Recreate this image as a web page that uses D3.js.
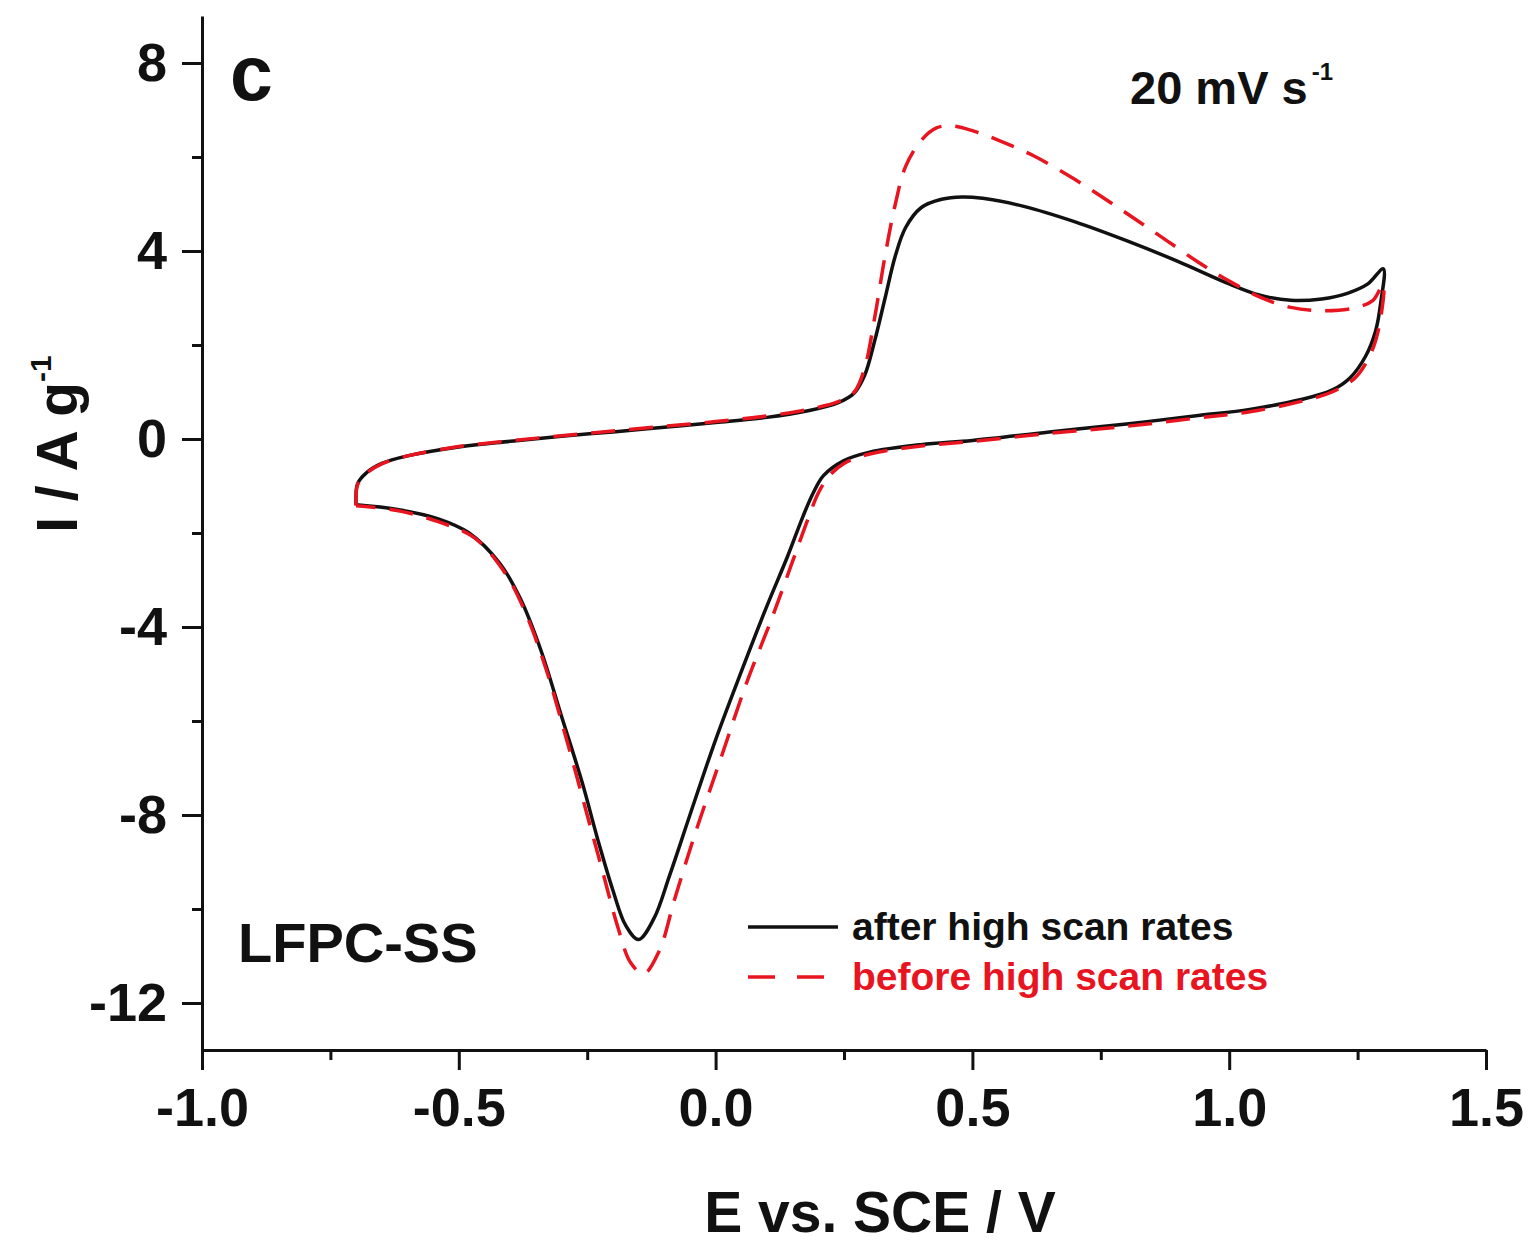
<!DOCTYPE html>
<html>
<head>
<meta charset="utf-8">
<script src="https://cdn.jsdelivr.net/npm/d3@7"></script>
<style>
	body { margin: 0; background: #fff; }
	svg { display: block; font-family: "Liberation Sans", Arial, sans-serif; font-weight: bold; }
	.axis path, .axis line { stroke: #111; stroke-width: 3; fill: none; }
	.axis text { font-size: 54px; fill: #111; font-family: "Liberation Sans", Arial, sans-serif; font-weight: bold; }
	.cv { fill: none; stroke-width: 3.5; stroke-linejoin: round; }
</style>
</head>
<body>
<svg id="chart" width="1533" height="1243"></svg>
<script>
// CV loops, [E / V, I / A g-1], anodic sweep from -0.7 V then back
const afterScan = [
	[-0.70, -1.40], [-0.697, -0.95], [-0.68, -0.72], [-0.65, -0.52], [-0.60, -0.36],
	[-0.50, -0.17], [-0.40, -0.05], [-0.30, 0.06], [-0.20, 0.15], [-0.10, 0.25],
	[0.00, 0.35], [0.10, 0.46], [0.18, 0.60], [0.24, 0.78], [0.27, 0.98],
	[0.29, 1.35], [0.31, 2.10], [0.33, 3.00], [0.35, 3.90], [0.37, 4.50],
	[0.40, 4.92], [0.44, 5.10], [0.48, 5.15], [0.52, 5.12], [0.60, 4.95],
	[0.70, 4.62], [0.80, 4.22], [0.90, 3.78], [1.00, 3.30], [1.06, 3.06],
	[1.12, 2.95], [1.18, 2.98], [1.23, 3.10], [1.27, 3.30], [1.30, 3.62],
	[1.295, 2.90], [1.285, 2.30], [1.265, 1.75], [1.235, 1.30], [1.20, 1.04],
	[1.14, 0.84], [1.04, 0.63], [0.94, 0.50], [0.80, 0.32], [0.65, 0.15],
	[0.50, -0.03], [0.40, -0.12], [0.30, -0.28], [0.25, -0.46], [0.21, -0.78],
	[0.19, -1.15], [0.17, -1.65], [0.14, -2.50], [0.10, -3.55], [0.05, -4.95],
	[0.00, -6.40], [-0.05, -8.00], [-0.09, -9.30], [-0.12, -10.20], [-0.15, -10.65],
	[-0.175, -10.35], [-0.20, -9.60], [-0.23, -8.50], [-0.26, -7.30], [-0.30, -5.90],
	[-0.34, -4.50], [-0.38, -3.40], [-0.42, -2.65], [-0.48, -2.00], [-0.54, -1.70],
	[-0.62, -1.50], [-0.70, -1.40]
];
const beforeScan = [
	[-0.70, -1.42], [-0.697, -0.97], [-0.68, -0.73], [-0.65, -0.53], [-0.60, -0.36],
	[-0.50, -0.16], [-0.40, -0.04], [-0.30, 0.07], [-0.20, 0.17], [-0.10, 0.27],
	[0.00, 0.37], [0.10, 0.49], [0.18, 0.63], [0.24, 0.80], [0.27, 1.00],
	[0.29, 1.50], [0.31, 2.60], [0.33, 3.90], [0.35, 5.00], [0.37, 5.80],
	[0.40, 6.35], [0.43, 6.62], [0.46, 6.66], [0.50, 6.56], [0.55, 6.36],
	[0.62, 6.02], [0.70, 5.52], [0.78, 4.95], [0.86, 4.36], [0.94, 3.76],
	[1.00, 3.36], [1.06, 3.02], [1.12, 2.80], [1.18, 2.73], [1.24, 2.78],
	[1.28, 2.95], [1.30, 3.30],
	[1.292, 2.40], [1.275, 1.80], [1.245, 1.30], [1.20, 1.00], [1.14, 0.80],
	[1.04, 0.58], [0.94, 0.45], [0.80, 0.27], [0.65, 0.12], [0.50, -0.05],
	[0.40, -0.15], [0.30, -0.32], [0.25, -0.52], [0.22, -0.80], [0.20, -1.15],
	[0.18, -1.70], [0.15, -2.60], [0.11, -3.80], [0.06, -5.20], [0.01, -6.80],
	[-0.04, -8.40], [-0.08, -9.80], [-0.11, -10.90], [-0.14, -11.38], [-0.165, -11.15],
	[-0.19, -10.40], [-0.22, -9.20], [-0.25, -8.00], [-0.29, -6.40], [-0.33, -4.90],
	[-0.37, -3.70], [-0.41, -2.85], [-0.47, -2.10], [-0.54, -1.76], [-0.62, -1.52],
	[-0.70, -1.42]
];
const xMajor = [-1.0, -0.5, 0.0, 0.5, 1.0, 1.5];
const xMinor = [-0.75, -0.25, 0.25, 0.75, 1.25];
const yMajor = [-12, -8, -4, 0, 4, 8];
const yMinor = [-10, -6, -2, 2, 6];
const seriesNames = ['after high scan rates', 'before high scan rates'];

const svg = d3.select('#chart');
const x = d3.scaleLinear().domain([-1, 1.5]).range([202, 1486]);
const y = d3.scaleLinear().domain([-13, 9]).range([1050, 16]);

// axes, ticks outward
svg.append('g')
	.attr('class', 'axis x')
	.attr('transform', 'translate(0,1050)')
	.call(d3.axisBottom(x).tickValues(xMajor).tickSize(20).tickSizeOuter(0).tickPadding(18)
		.tickFormat(d => d.toFixed(1)));
svg.append('g')
	.attr('class', 'axis x minor')
	.attr('transform', 'translate(0,1050)')
	.call(d3.axisBottom(x).tickValues(xMinor).tickSize(10).tickFormat(''))
	.call(g => g.select('.domain').remove());
svg.append('g')
	.attr('class', 'axis y')
	.attr('transform', 'translate(202,0)')
	.call(d3.axisLeft(y).tickValues(yMajor).tickSize(20).tickSizeOuter(0).tickPadding(15)
		.tickFormat(d => String(d)));
svg.append('g')
	.attr('class', 'axis y minor')
	.attr('transform', 'translate(202,0)')
	.call(d3.axisLeft(y).tickValues(yMinor).tickSize(10).tickFormat(''))
	.call(g => g.select('.domain').remove());

const line = d3.line()
	.x(d => x(d[0]))
	.y(d => y(d[1]))
	.curve(d3.curveCatmullRom.alpha(0.5));

svg.append('path')
	.datum(afterScan)
	.attr('class', 'cv')
	.attr('stroke', '#111')
	.attr('d', line);
svg.append('path')
	.datum(beforeScan)
	.attr('class', 'cv')
	.attr('stroke', '#e8141f')
	.attr('stroke-dasharray', '24,14')
	.attr('d', line);

// legend
const legend = svg.append('g');
legend.append('line')
	.attr('x1', 748).attr('x2', 838).attr('y1', 927).attr('y2', 927)
	.attr('stroke', '#111').attr('stroke-width', 3.5);
legend.append('line')
	.attr('x1', 748).attr('x2', 824).attr('y1', 977).attr('y2', 977)
	.attr('stroke', '#e8141f').attr('stroke-width', 3.5)
	.attr('stroke-dasharray', '27,22');
legend.append('text')
	.attr('x', 852).attr('y', 940)
	.attr('font-size', 39).attr('fill', '#111')
	.text(seriesNames[0]);
legend.append('text')
	.attr('x', 852).attr('y', 990)
	.attr('font-size', 39).attr('fill', '#e8141f')
	.text(seriesNames[1]);

// annotations
svg.append('text').attr('x', 230).attr('y', 100).attr('font-size', 77).attr('fill', '#111').text('c');
svg.append('text').attr('x', 238).attr('y', 962).attr('font-size', 56).attr('fill', '#111').text('LFPC-SS');
const rate = svg.append('text').attr('x', 1130).attr('y', 104).attr('font-size', 47).attr('fill', '#111');
rate.append('tspan').text('20 mV s');
rate.append('tspan').attr('dx', 4).attr('dy', -24).attr('font-size', 24).text('-1');

// axis titles
svg.append('text')
	.attr('x', 880).attr('y', 1232)
	.attr('text-anchor', 'middle')
	.attr('font-size', 57).attr('fill', '#111')
	.text('E vs. SCE / V');
const yTitle = svg.append('text')
	.attr('transform', 'translate(77,444) rotate(-90)')
	.attr('text-anchor', 'middle')
	.attr('font-size', 57).attr('fill', '#111');
yTitle.append('tspan').text('I / A g');
yTitle.append('tspan').attr('dy', -26).attr('font-size', 30).text('-1');
</script>
</body>
</html>
